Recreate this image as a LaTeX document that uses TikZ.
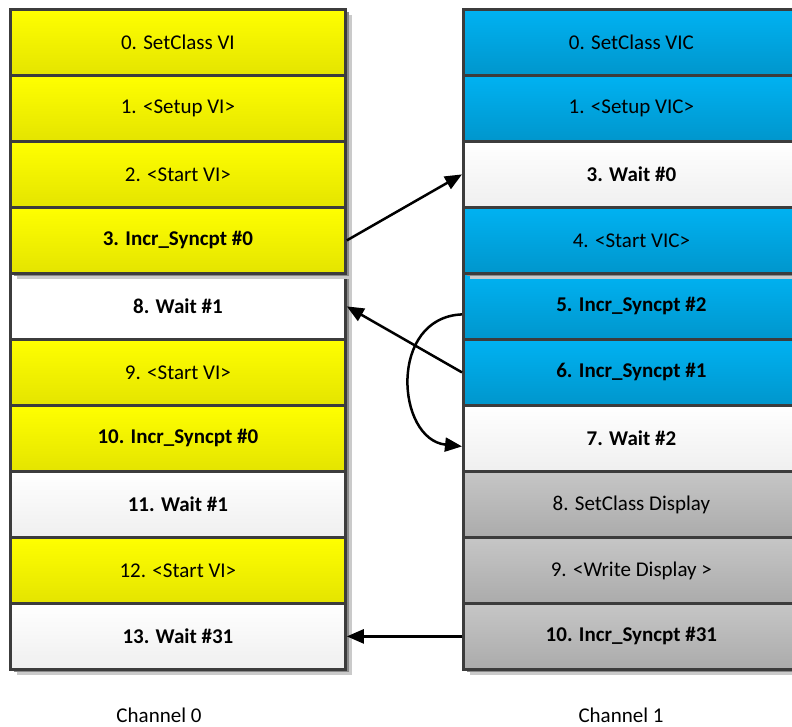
\documentclass[tikz,border=0pt]{standalone}
\usepackage{fontspec}
\setmainfont{Carlito}
\usetikzlibrary{arrows.meta,shadows}

\definecolor{edgeGray}{HTML}{3C3C3C}
\definecolor{yelTop}{HTML}{FFFF00}
\definecolor{yelBot}{HTML}{E4E400}
\definecolor{bluTop}{HTML}{00B2F2}
\definecolor{bluBot}{HTML}{0096CC}
\definecolor{whTop}{HTML}{FFFFFF}
\definecolor{whBot}{HTML}{EFEFEF}
\definecolor{gyTop}{HTML}{C6C6C6}
\definecolor{gyBot}{HTML}{ABABAB}
\definecolor{shLight}{HTML}{CACACA}
\definecolor{shDark}{HTML}{8A8A8A}

\tikzset{
  cell/.style={draw=edgeGray, line width=2.8pt, minimum height=66pt,
    inner sep=0pt, anchor=north west, text=black,
    font=\fontsize{21}{25}\selectfont,
    general shadow={fill=shLight, draw=none, shadow xshift=7pt, shadow yshift=-6pt},
    general shadow={fill=shDark, draw=none, shadow xshift=3.5pt, shadow yshift=-3pt}},
  leftcol/.style={cell, minimum width=335pt},
  rightcol/.style={cell, minimum width=336pt},
  yel/.style={top color=yelTop, bottom color=yelBot},
  blu/.style={top color=bluTop, bottom color=bluBot},
  wht/.style={top color=whTop, bottom color=whBot},
  plainwht/.style={fill=white},
  gry/.style={top color=gyTop, bottom color=gyBot},
  bld/.style={font=\fontsize{21}{25}\selectfont\bfseries},
  link/.style={draw=black, line width=2.5pt, -{Triangle[length=17pt,width=14pt]}},
  chan/.style={font=\fontsize{21}{25}\selectfont, inner sep=0pt}
}

\begin{document}
\begin{tikzpicture}[x=1pt,y=-1pt]
\useasboundingbox (0,0) rectangle (792,727);
\clip (0,0) rectangle (792,727);

% Channel 0, second block of commands
\node[leftcol, plainwht, bld] (L8)  at (9,272) {8. Wait \#1};
\node[leftcol, yel]           (L9)  at (9,338) {9. <Start VI>};
\node[leftcol, yel, bld]      (L10) at (9,404) {10. Incr\_Syncpt \#0};
\node[leftcol, wht, bld]      (L11) at (9,470) {11. Wait \#1};
\node[leftcol, yel]           (L12) at (9,536) {12. <Start VI>};
\node[leftcol, wht, bld]      (L13) at (9,602) {13. Wait \#31};

% Channel 1, lower commands
\node[rightcol, blu, bld]     (R5)  at (462,272) {5. Incr\_Syncpt \#2};
\node[rightcol, blu, bld]     (R6)  at (462,338) {6. Incr\_Syncpt \#1};
\node[rightcol, wht, bld]     (R7)  at (462,404) {7. Wait \#2};
\node[rightcol, gry]          (R8)  at (462,470) {8. SetClass Display};
\node[rightcol, gry]          (R9)  at (462,536) {9. <Write Display >};
\node[rightcol, gry, bld]     (R10) at (462,602) {10. Incr\_Syncpt \#31};

% Channel 0, first block of commands
\node[leftcol, yel]           (L0)  at (9,8)   {0. SetClass VI};
\node[leftcol, yel]           (L1)  at (9,74)  {1. <Setup VI>};
\node[leftcol, yel]           (L2)  at (9,140) {2. <Start VI>};
\node[leftcol, yel, bld]      (L3)  at (9,206) {3. Incr\_Syncpt \#0};

% Channel 1, upper commands
\node[rightcol, blu]          (R0)  at (462,8)   {0. SetClass VIC};
\node[rightcol, blu]          (R1)  at (462,74)  {1. <Setup VIC>};
\node[rightcol, wht, bld]     (R3)  at (462,140) {3. Wait \#0};
\node[rightcol, blu]          (R4)  at (462,206) {4. <Start VIC>};

% channel captions
\node[chan] (ch0) at (159,715) {Channel 0};
\node[chan] (ch1) at (621,715) {Channel 1};

% sync point signalling
\draw[link] (L3.east) -- (R3.west);
\draw[link] (R6.west) -- (L8.east);
\draw[link] ([yshift=-8pt]R5.west) .. controls +(-74,3) and +(-66,-7) .. ([yshift=-8pt]R7.west);
\draw[link] (R10.west) -- (L13.east);
\end{tikzpicture}
\end{document}
